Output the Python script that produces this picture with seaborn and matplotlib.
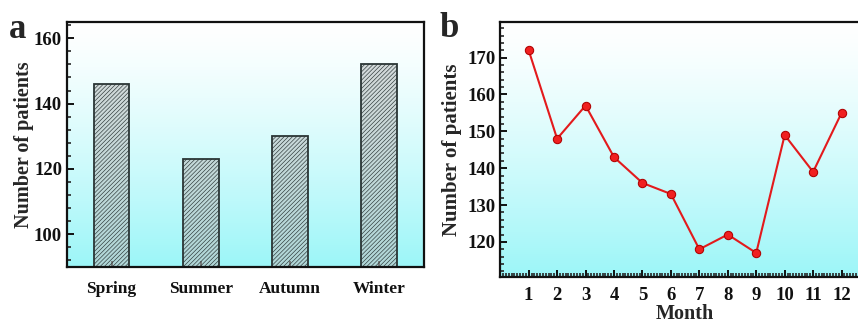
import numpy as np
import matplotlib
matplotlib.use("Agg")
import matplotlib.pyplot as plt
from matplotlib.ticker import MultipleLocator
from matplotlib.colors import to_rgb
import seaborn as sns

# Data.
seasons       = ["Spring", "Summer", "Autumn", "Winter"]
seasonCounts  = [146, 123, 130, 152]
months        = [1, 2, 3, 4, 5, 6, 7, 8, 9, 10, 11, 12]
monthCounts   = [172, 148, 157, 143, 136, 133, 118, 122, 117, 149, 139, 155]

sns.set_style("ticks")
plt.rcParams["font.family"]      = ["Liberation Serif", "DejaVu Serif"]
plt.rcParams["font.weight"]      = "bold"
plt.rcParams["axes.labelweight"] = "bold"
plt.rcParams["hatch.linewidth"]  = 0.45


def GradientBackground(axis):
    # White at the top fading to cyan at the bottom.
    top    = np.array(to_rgb("#ffffff"))
    bottom = np.array(to_rgb("#9cf6f8"))
    t      = np.linspace(0, 1, 256)[:, None]
    t      = t**1.3
    colors = (top*(1-t) + bottom*t)[:, None, :]
    axis.imshow(colors, extent=(0, 1, 0, 1), transform=axis.transAxes,
                aspect="auto", zorder=0, interpolation="bilinear")


def StyleAxis(axis, labelSize):
    for spine in axis.spines.values():
        spine.set_linewidth(1.6)
        spine.set_color("#111111")
    axis.tick_params(direction="in", width=1.4, length=5, labelsize=labelSize, colors="#111111")
    axis.tick_params(which="minor", direction="in", width=1.2, length=3)
    for label in axis.get_xticklabels() + axis.get_yticklabels():
        label.set_fontweight("bold")


figure = plt.figure(figsize=(8.58, 3.22), dpi=100)

# Panel a: seasonal bars.
axisA = figure.add_axes([0.078, 0.171, 0.416, 0.761])
GradientBackground(axisA)
sns.barplot(x=seasons, y=seasonCounts, ax=axisA, width=0.4, saturation=1,
            color="#c0c0c0", edgecolor="#2a3535", linewidth=1.3, hatch="////////", zorder=2)
for patch in axisA.patches:
    patch.set_facecolor((0.74, 0.76, 0.76, 0.6))
axisA.set_xlim(-0.5, 3.5)
axisA.set_ylim(90, 165)
axisA.yaxis.set_major_locator(MultipleLocator(20))
axisA.yaxis.set_minor_locator(MultipleLocator(4))
axisA.set_xlabel("")
axisA.set_ylabel("Number of patients", fontsize=14.5, labelpad=0)
StyleAxis(axisA, 13.5)
axisA.tick_params(axis="x", length=4, pad=10, labelsize=12.5)
axisA.tick_params(top=False, right=False)
figure.text(9/858, 1-38/322, "a", fontsize=25, fontweight="bold", va="baseline")

# Panel b: monthly line.
axisB = figure.add_axes([0.583, 0.140, 0.431, 0.792])
GradientBackground(axisB)
sns.lineplot(x=months, y=monthCounts, ax=axisB, color="#e31a1c", linewidth=1.5,
             marker="o", markersize=6, markeredgecolor="#b00000",
             markerfacecolor="#f02020", zorder=3)
axisB.set_xlim(0, 13)
axisB.set_ylim(110.5, 179.7)
axisB.xaxis.set_minor_locator(MultipleLocator(0.1))
axisB.yaxis.set_major_locator(MultipleLocator(10))
axisB.yaxis.set_minor_locator(MultipleLocator(2))
axisB.set_xticks(months)
axisB.set_xlabel("Month", fontsize=14.5, labelpad=0)
axisB.set_ylabel("Number of patients", fontsize=15, labelpad=4)
StyleAxis(axisB, 13.5)
axisB.tick_params(axis="x", pad=7)
axisB.tick_params(top=False, right=False)
axisB.tick_params(which="minor", top=False, right=False)
figure.text(439/858, 1-37/322, "b", fontsize=25, fontweight="bold", va="baseline")

figure.savefig("out.png", dpi=100)
